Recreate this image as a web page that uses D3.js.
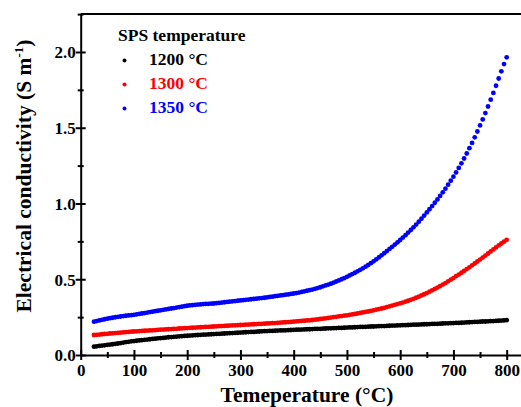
<!DOCTYPE html>
<html>
<head>
<meta charset="utf-8">
<script src="https://cdn.jsdelivr.net/npm/d3@7"></script>
<style>
  html, body { margin: 0; padding: 0; background: #fff; }
  svg { display: block; }
  text { font-family: "Liberation Serif", "Times New Roman", serif; font-weight: bold; }
</style>
</head>
<body>
<svg id="chart" width="521" height="407"></svg>
<script>
// ---- data ----
const temperatures = [25,30,35,40,45,50,55,60,65,70,75,80,85,90,95,100,105,110,115,120,125,130,135,140,145,150,155,160,165,170,175,180,185,190,195,200,205,210,215,220,225,230,235,240,245,250,255,260,265,270,275,280,285,290,295,300,305,310,315,320,325,330,335,340,345,350,355,360,365,370,375,380,385,390,395,400,405,410,415,420,425,430,435,440,445,450,455,460,465,470,475,480,485,490,495,500,505,510,515,520,525,530,535,540,545,550,555,560,565,570,575,580,585,590,595,600,605,610,615,620,625,630,635,640,645,650,655,660,665,670,675,680,685,690,695,700,705,710,715,720,725,730,735,740,745,750,755,760,765,770,775,780,785,790,795,800];

const sigma1200 = [.055,.057,.060,.062,.064,.067,.069,.071,.074,.076,.079,.082,.085,.087,.090,.092,.094,.096,.098,.100,.102,.104,.106,.108,.110,.111,.113,.115,.117,.118,.120,.121,.123,.124,.126,.127,.128,.129,.131,.132,.133,.134,.135,.136,.137,.138,.139,.140,.141,.142,.143,.144,.145,.146,.147,.148,.149,.150,.151,.152,.153,.154,.155,.156,.157,.158,.159,.159,.160,.161,.162,.162,.163,.164,.165,.166,.167,.167,.168,.169,.170,.170,.171,.172,.173,.173,.174,.175,.176,.176,.177,.178,.179,.179,.180,.181,.182,.182,.183,.184,.185,.185,.186,.187,.188,.188,.189,.190,.191,.191,.192,.193,.194,.194,.195,.196,.197,.197,.198,.199,.200,.200,.201,.202,.203,.203,.204,.205,.206,.206,.207,.208,.209,.209,.210,.211,.212,.212,.213,.214,.215,.216,.217,.218,.219,.220,.221,.221,.222,.223,.224,.225,.226,.227,.228,.230];

const sigma1300 = [.132,.133,.135,.137,.139,.140,.142,.143,.145,.146,.148,.149,.151,.152,.154,.155,.156,.157,.159,.160,.161,.162,.163,.164,.166,.167,.168,.169,.170,.171,.172,.173,.175,.176,.177,.178,.179,.180,.181,.182,.183,.184,.185,.186,.187,.188,.189,.190,.191,.192,.193,.194,.195,.196,.197,.198,.199,.200,.201,.202,.203,.204,.205,.206,.207,.208,.209,.210,.211,.212,.214,.215,.216,.217,.219,.220,.222,.223,.225,.226,.228,.229,.231,.233,.235,.238,.240,.242,.245,.247,.250,.252,.255,.257,.260,.262,.265,.268,.271,.274,.278,.281,.284,.287,.291,.295,.299,.303,.307,.311,.316,.321,.326,.331,.336,.341,.346,.352,.358,.364,.371,.378,.385,.393,.401,.409,.418,.427,.436,.445,.455,.465,.475,.486,.497,.508,.520,.531,.543,.555,.567,.579,.592,.604,.617,.630,.643,.656,.670,.683,.697,.710,.723,.736,.748,.760];

const sigma1350 = [.220,.224,.228,.232,.236,.240,.243,.246,.249,.252,.254,.257,.259,.261,.263,.265,.268,.271,.274,.277,.280,.283,.286,.289,.292,.295,.298,.301,.304,.307,.310,.313,.316,.319,.322,.325,.327,.329,.331,.333,.334,.336,.337,.338,.339,.340,.342,.344,.346,.348,.350,.352,.354,.356,.358,.360,.362,.364,.366,.368,.370,.372,.374,.376,.378,.380,.383,.385,.388,.390,.393,.395,.398,.400,.403,.406,.409,.412,.416,.420,.424,.428,.432,.437,.442,.447,.453,.459,.465,.471,.478,.485,.492,.500,.508,.516,.525,.534,.543,.552,.562,.572,.583,.594,.606,.618,.631,.644,.658,.672,.686,.700,.714,.729,.744,.759,.775,.791,.808,.825,.843,.861,.880,.900,.920,.941,.962,.983,1.005,1.027,1.050,1.074,1.098,1.124,1.150,1.177,1.205,1.235,1.265,1.297,1.330,1.365,1.400,1.437,1.475,1.515,1.555,1.597,1.640,1.685,1.730,1.777,1.825,1.872,1.920,1.965];

const seriesNames = ["1200 °C", "1300 °C", "1350 °C"];
const seriesColors = ["#000000", "#ff0000", "#0000ff"];
const xMajorTicks = [0,100,200,300,400,500,600,700,800];
const xMinorTicks = [50,150,250,350,450,550,650,750,850];
const yMajorTicks = [0,0.5,1.0,1.5,2.0];
const yMinorTicks = [0.25,0.75,1.25,1.75,2.25];
const legendTitle = "SPS temperature";
const xTitle = "Temeperature (°C)";

// ---- layout ----
const svg = d3.select("#chart");
const x = d3.scaleLinear().domain([0, 850]).range([80.7, 533.3]);
const y = d3.scaleLinear().domain([0, 2.25]).range([355, 14.1]);

const seriesData = [sigma1200, sigma1300, sigma1350].map((vals, i) => ({
  name: seriesNames[i], color: seriesColors[i],
  points: temperatures.map((t, j) => ({ t, v: vals[j] }))
}));

// frame top line
svg.append("line")
  .attr("x1", x(0)).attr("x2", 521)
  .attr("y1", y(2.25)).attr("y2", y(2.25))
  .attr("stroke", "#000").attr("stroke-width", 2);

// x axis
const gx = svg.append("g").attr("transform", `translate(0,${y(0)})`);
gx.call(d3.axisBottom(x).tickValues(xMajorTicks).tickFormat(d3.format("d")).tickSizeOuter(0));
gx.select(".domain").attr("stroke-width", 2);
gx.selectAll(".tick line").attr("y1", -5).attr("y2", 5).attr("stroke-width", 2);
gx.selectAll(".tick text").attr("y", 21).attr("dy", 0).attr("font-size", 17).attr("fill", "#000");
const gxm = svg.append("g").attr("transform", `translate(0,${y(0)})`);
gxm.call(d3.axisBottom(x).tickValues(xMinorTicks).tickFormat("").tickSizeOuter(0));
gxm.select(".domain").remove();
gxm.selectAll(".tick line").attr("y1", -3).attr("y2", 3).attr("stroke-width", 2);

// y axis
const gy = svg.append("g").attr("transform", `translate(${x(0)},0)`);
gy.call(d3.axisLeft(y).tickValues(yMajorTicks).tickFormat(d3.format(".1f")).tickSizeOuter(0));
gy.select(".domain").attr("stroke-width", 2);
gy.selectAll(".tick line").attr("x1", -5).attr("x2", 5).attr("stroke-width", 2);
gy.selectAll(".tick text").attr("x", -5).attr("dy", "0.34em").attr("font-size", 17).attr("fill", "#000");
const gym = svg.append("g").attr("transform", `translate(${x(0)},0)`);
gym.call(d3.axisLeft(y).tickValues(yMinorTicks).tickFormat("").tickSizeOuter(0));
gym.select(".domain").remove();
gym.selectAll(".tick line").attr("x1", -3).attr("x2", 3).attr("stroke-width", 2);

// axis titles
svg.append("text")
  .attr("x", 307).attr("y", 402)
  .attr("text-anchor", "middle").attr("font-size", 21.5)
  .text(xTitle);

const yt = svg.append("text")
  .attr("transform", "translate(31,176) rotate(-90)")
  .attr("text-anchor", "middle").attr("font-size", 21.5);
yt.append("tspan").text("Electrical conductivity (S m");
yt.append("tspan").attr("font-size", 13).attr("dy", -8).text("-1");
yt.append("tspan").attr("dy", 8).text(")");

// data dots
const gData = svg.append("g");
seriesData.forEach(s => {
  gData.append("g").selectAll("circle")
    .data(s.points)
    .join("circle")
    .attr("cx", d => x(d.t))
    .attr("cy", d => y(d.v))
    .attr("r", 2.4)
    .attr("fill", s.color);
});

// legend
const lg = svg.append("g");
lg.append("text").attr("x", 118).attr("y", 41).attr("font-size", 17.5).text(legendTitle);
seriesData.forEach((s, i) => {
  const yy = 65 + i * 24;
  lg.append("circle").attr("cx", 124.5).attr("cy", yy - 4.5).attr("r", 2).attr("fill", s.color);
  lg.append("text").attr("x", 149).attr("y", yy).attr("font-size", 17.5).attr("fill", s.color).text(s.name);
});
</script>
</body>
</html>
